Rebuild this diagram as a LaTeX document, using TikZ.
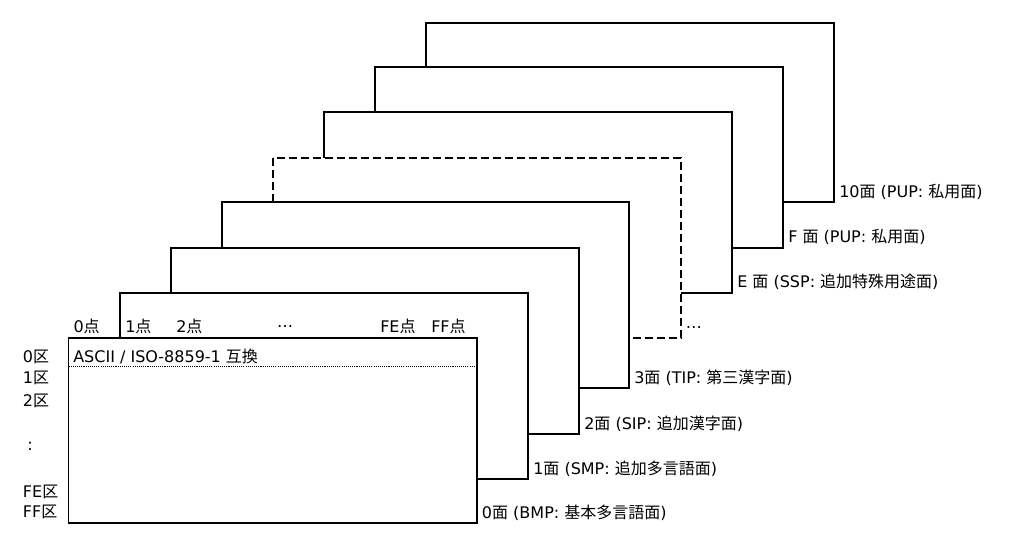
\documentclass[tikz,border=0pt]{standalone}
\usepackage{fontspec}
\setmainfont{DejaVu Sans}
\newfontfamily\jp{Noto Sans CJK JP}

\begin{document}
\begin{tikzpicture}[x=0.75pt,y=-0.75pt,font=\fontsize{12}{14}\selectfont,
 plane/.style={draw,fill=white,line width=1.4pt},
 hidden/.style={dash pattern=on 6pt off 3pt},
 lbl/.style={anchor=west,inner sep=0pt}]
\useasboundingbox (0,0) rectangle (1022,547);
\foreach \n/\l/\t/\r/\b/\s/\txt in {
 10/425.7/23/834/202.3/solid/{10{\jp 面} (PUP: {\jp 私用面})},
 F/375/67.3/783/247.7/solid/{F {\jp 面} (PUP: {\jp 私用面})},
 E/324/112.3/732/292.7/solid/{E {\jp 面} (SSP: {\jp 追加特殊用途面})},
 d/272.7/157.7/680.7/337.7/hidden/{…},
 3/221.7/202.3/629/388.3/solid/{3{\jp 面} (TIP: {\jp 第三漢字面})},
 2/171/247.7/579/434/solid/{2{\jp 面} (SIP: {\jp 追加漢字面})},
 1/120/293/528/479/solid/{1{\jp 面} (SMP: {\jp 追加多言語面})},
 0/68.5/337.7/476.7/523.3/solid/{0{\jp 面} (BMP: {\jp 基本多言語面})}}{
 \draw[plane,\s] (\l,\t) rectangle (\r,\b);
 \node[lbl] (pl\n) at (\r+5,\b-10.5) {\txt};
}
\draw[line width=0.6pt,dash pattern=on 0.8pt off 0.8pt] (68.5,366) -- (476.7,366);
\node[lbl] (ascii) at (73,356.7) {ASCII / ISO-8859-1 {\jp 互換}};
\foreach \x/\c in {73.3/0,125/1,176/2,380/FE,431/FF}
 \node[lbl] (col\c) at (\x,326.7) {\c{\jp 点}};
\node[inner sep=0pt] (coldots) at (285,326.7) {…};
\foreach \y/\c in {356.7/0,378.3/1,400.7/2,491.7/FE,512.3/FF}
 \node[lbl] (row\c) at (22.7,\y) {\c{\jp 区}};
\node[inner sep=0pt] (rowdots) at (30,446.7) {:};
\end{tikzpicture}
\end{document}
